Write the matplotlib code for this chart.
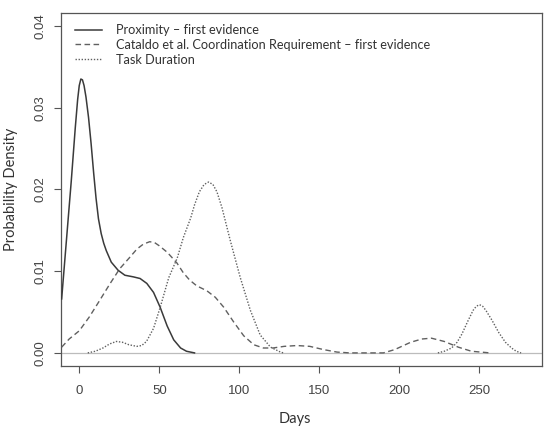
import matplotlib
matplotlib.use("Agg")
import matplotlib.pyplot as plt
import numpy as np

# ---- data (days, probability density) ----
prox_days = [-11, -8, -5, -2.5, -1, 0, 1, 2, 3, 4.2, 5.8, 7.4, 9, 10.5, 12, 13.7, 15.3, 16.9,
             20, 24.3, 28.5, 33.8, 38, 42.2, 46.4, 50.5, 54.9, 59, 63.3, 67, 72]
prox_dens = [0.0066, 0.0138, 0.0210, 0.0275, 0.0310, 0.0327, 0.0335, 0.0334, 0.0327, 0.0313,
             0.0288, 0.0256, 0.0220, 0.0189, 0.0164, 0.0146, 0.0134, 0.0125, 0.0111, 0.0101,
             0.0095, 0.0093, 0.0091, 0.0085, 0.0074, 0.0056, 0.0033, 0.0016, 0.0006, 0.0002, 0.0]

cat_days = [-11, -6.3, 0, 6.3, 12.7, 19, 25.3, 31.6, 36, 40, 44, 47, 50, 55, 61, 65, 69, 73.4,
            79.7, 85, 90.2, 96.4, 102.7, 109, 115, 121, 128, 136, 144, 152.7, 161, 169, 180,
            190, 197, 207, 214, 220, 228, 236.8, 245, 256.7]
cat_dens = [0.0007, 0.0017, 0.0027, 0.0044, 0.0064, 0.0084, 0.0103, 0.0117, 0.0127, 0.0133,
            0.0136, 0.0135, 0.0131, 0.0123, 0.0110, 0.0098, 0.0089, 0.0082, 0.0076, 0.0068,
            0.0056, 0.0038, 0.0021, 0.0010, 0.0006, 0.0006, 0.0008, 0.0009, 0.0008, 0.0004,
            0.0001, 0.0, 0.0, 0.0, 0.0004, 0.0013, 0.0017, 0.0018, 0.0014, 0.0007, 0.0002, 0.0]

task_days_a = [5.3, 10, 14.8, 19, 23.2, 27, 31, 35.9, 39, 42, 46.4, 50.6, 55.9, 61.2, 65,
               69.6, 72, 75, 78, 80.8, 83.5, 86, 89.1, 94.4, 100.6, 106.9, 113, 119.5, 125.7, 127.5]
task_dens_a = [0.0, 0.0002, 0.0006, 0.0011, 0.0014, 0.0013, 0.0010, 0.0008, 0.0009, 0.0014,
               0.0030, 0.0056, 0.0092, 0.0116, 0.0141, 0.0165, 0.0181, 0.0197, 0.0206, 0.0209,
               0.0206, 0.0197, 0.0178, 0.0137, 0.0092, 0.0052, 0.0022, 0.0007, 0.0001, 0.0]
task_days_b = [224, 228, 232.6, 236, 239, 243, 246, 248, 250, 252, 254, 257.8, 262, 266.2, 270,
               273, 276]
task_dens_b = [0.0, 0.0002, 0.0006, 0.0013, 0.0023, 0.0040, 0.0052, 0.0057, 0.0059, 0.0057,
               0.0052, 0.0040, 0.0025, 0.0013, 0.0006, 0.0002, 0.0]

labels = ["Proximity \u2013 first evidence",
          "Cataldo et al. Coordination Requirement \u2013 first evidence",
          "Task Duration"]
x_ticks = [0, 50, 100, 150, 200, 250]
y_ticks = [0.00, 0.01, 0.02, 0.03, 0.04]
y_ticklabels = ["0.00", "0.01", "0.02", "0.03", "0.04"]

# ---- figure ----
fig = plt.figure(figsize=(5.47, 4.28), dpi=100)
ax = fig.add_axes([0.1124, 0.1449, 0.8786, 0.8252])

ax.axhline(0, color="#bcbcbc", lw=0.9, zorder=1)
l1, = ax.plot(prox_days, prox_dens, color="#3a3a3a", lw=1.1, ls="-", zorder=3)
l2, = ax.plot(cat_days, cat_dens, color="#606060", lw=1.0, ls=(0, (4, 2.5)), zorder=3)
l3, = ax.plot(task_days_a, task_dens_a, color="#606060", lw=1.0, ls=(0, (1, 1.2)), zorder=3)
ax.plot(task_days_b, task_dens_b, color="#606060", lw=1.0, ls=(0, (1, 1.2)), zorder=3)

ax.set_xlim(-11.1, 289.1)
ax.set_ylim(-0.0016, 0.0416)

tick_font = dict(family=["Liberation Sans", "DejaVu Sans"], size=9.5)
ax.set_xticks(x_ticks)
ax.set_xticklabels([str(t) for t in x_ticks], color="#444444", **tick_font)
ax.set_yticks(y_ticks)
ax.set_yticklabels(y_ticklabels, rotation=90, va="center", color="#444444", **tick_font)
ax.tick_params(axis="both", direction="out", length=5, width=0.8, color="#555555")
ax.tick_params(axis="x", pad=9)
ax.tick_params(axis="y", pad=6)
for s in ax.spines.values():
    s.set_color("#555555")
    s.set_linewidth(0.9)

lab_font = dict(family=["Lato", "DejaVu Sans"], size=10.5, color="#333333")
ax.set_xlabel("Days", **lab_font)
ax.set_ylabel("Probability Density", va="center", **lab_font)
ax.xaxis.set_label_coords(0.485, -0.13)
ax.yaxis.set_label_coords(-0.106, 0.5)

leg = ax.legend([l1, l2, l3], labels, loc="upper left", bbox_to_anchor=(0.012, 0.99),
                frameon=False, prop=dict(family=["Lato", "DejaVu Sans"], size=9.2),
                handlelength=2.1, handletextpad=1.1, labelspacing=0.22, borderaxespad=0.2)
for t in leg.get_texts():
    t.set_color("#333333")

fig.savefig("out.png", dpi=100)
